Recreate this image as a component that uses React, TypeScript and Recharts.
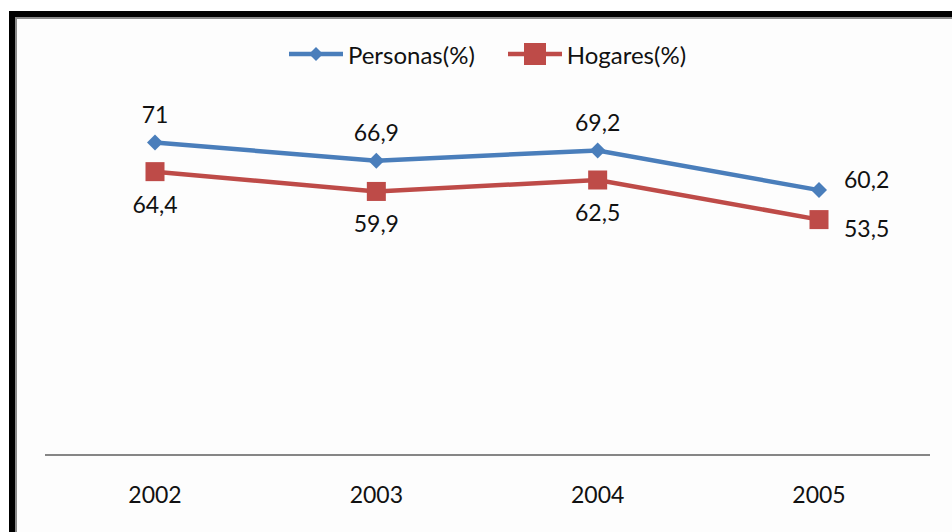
import React from "react";
import { LineChart, Line, XAxis, YAxis, Legend, LabelList } from "recharts";

const years = ["2002", "2003", "2004", "2005"];
const personas = [71, 66.9, 69.2, 60.2];
const hogares = [64.4, 59.9, 62.5, 53.5];

const BLUE = "#4A7EBB";
const RED = "#BE4B48";
const FONT = "Lato, 'Open Sans', sans-serif";

const data = years.map((year, i) => ({
  year,
  personas: personas[i],
  hogares: hogares[i],
}));

const fmt = (v: number) => String(v).replace(".", ",");

function Diamond({ cx, cy, size = 8 }: { cx: number; cy: number; size?: number }) {
  return (
    <path
      d={`M${cx},${cy - size} L${cx + size},${cy} L${cx},${cy + size} L${cx - size},${cy} Z`}
      fill={BLUE}
    />
  );
}

function Square({ cx, cy, size = 19 }: { cx: number; cy: number; size?: number }) {
  return <rect x={cx - size / 2} y={cy - size / 2} width={size} height={size} fill={RED} />;
}

const labelText = (x: number, y: number, value: number, anchor: string) => (
  <text
    x={x}
    y={y}
    textAnchor={anchor}
    dominantBaseline="central"
    fontFamily={FONT}
    fontSize={23}
    fill="#111"
  >
    {fmt(value)}
  </text>
);

// last point gets its label on the right, like the original
const personasLabel = (props: any) => {
  const { x, y, value, index } = props;
  if (index === years.length - 1) return labelText(x + 25, y - 11, value, "start");
  return labelText(x, y - 29, value, "middle");
};

const hogaresLabel = (props: any) => {
  const { x, y, value, index } = props;
  if (index === years.length - 1) return labelText(x + 25, y + 8, value, "start");
  return labelText(x, y + 32, value, "middle");
};

function LegendContent() {
  const item = (name: string, color: string, marker: React.ReactNode) => (
    <div style={{ display: "flex", alignItems: "center" }}>
      <svg width={54} height={30}>
        <line x1={0} y1={15} x2={54} y2={15} stroke={color} strokeWidth={4.5} />
        {marker}
      </svg>
      <span style={{ marginLeft: 5, fontFamily: FONT, fontSize: 24, color: "#111" }}>{name}</span>
    </div>
  );
  return (
    <div style={{ display: "flex", justifyContent: "center", gap: 33, height: 30 }}>
      {item("Personas(%)", BLUE, <Diamond cx={27} cy={15} size={7} />)}
      {item("Hogares(%)", RED, <Square cx={27} cy={15} size={22} />)}
    </div>
  );
}

export default function App() {
  return (
    <div style={{ position: "absolute", left: 0, top: 0, width: 952, height: 532, background: "#fff" }}>
      <div
        style={{
          position: "absolute",
          left: 9,
          top: 11,
          width: 943,
          height: 521,
          boxSizing: "border-box",
          borderTop: "6px solid #000",
          borderLeft: "6px solid #000",
          background: "#FDFDFD",
        }}
      >
        <div
          style={{
            position: "absolute",
            left: 0,
            top: 0,
            right: 0,
            bottom: 0,
            borderTop: "2px solid #8a8a8a",
            borderLeft: "2px solid #8a8a8a",
          }}
        />
      </div>
      <div style={{ position: "absolute", left: 0, top: 0 }}>
        <LineChart width={952} height={532} data={data} margin={{ top: 73, right: 22, bottom: 0, left: 45 }}>
          <Legend verticalAlign="top" content={<LegendContent />} wrapperStyle={{ top: 39 }} />
          <XAxis
            dataKey="year"
            height={77}
            padding={{ left: 110, right: 111 }}
            axisLine={{ stroke: "#868686", strokeWidth: 2 }}
            tickLine={false}
            tickSize={0}
            tickMargin={32}
            tick={{ fill: "#111", fontSize: 23, fontFamily: FONT }}
          />
          <YAxis hide domain={[0, 80]} />
          <Line
            type="linear"
            dataKey="personas"
            name="Personas(%)"
            stroke={BLUE}
            strokeWidth={4.5}
            dot={(p: any) => <Diamond key={`d${p.index}`} cx={p.cx} cy={p.cy} />}
            activeDot={false}
            isAnimationActive={false}
          >
            <LabelList dataKey="personas" content={personasLabel} />
          </Line>
          <Line
            type="linear"
            dataKey="hogares"
            name="Hogares(%)"
            stroke={RED}
            strokeWidth={4.5}
            dot={(p: any) => <Square key={`s${p.index}`} cx={p.cx} cy={p.cy} />}
            activeDot={false}
            isAnimationActive={false}
          >
            <LabelList dataKey="hogares" content={hogaresLabel} />
          </Line>
        </LineChart>
      </div>
    </div>
  );
}
